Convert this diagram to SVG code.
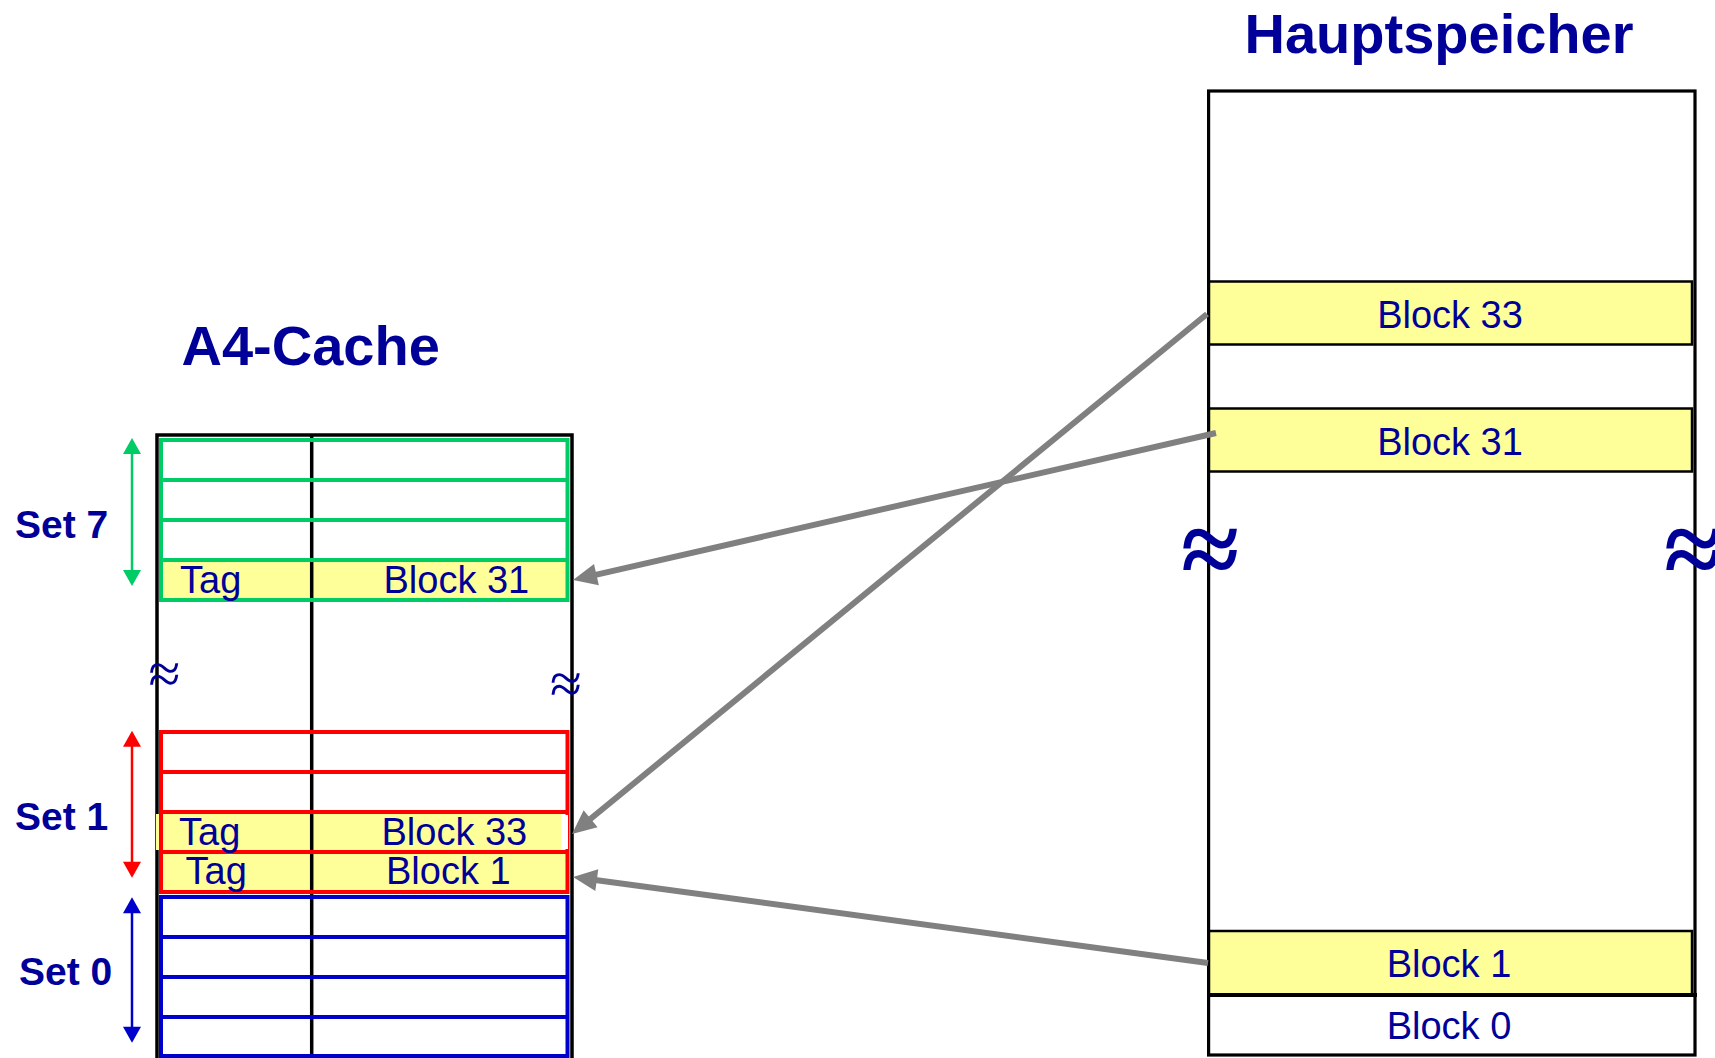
<svg xmlns="http://www.w3.org/2000/svg" width="1715" height="1058" viewBox="0 0 1715 1058">
<style>
.txt{font-family:"Liberation Sans",Arial,sans-serif;fill:#000099;font-size:38px}
.title{font-family:"Liberation Sans",Arial,sans-serif;fill:#000099;font-size:56px;font-weight:bold}
.setl{font-family:"Liberation Sans",Arial,sans-serif;fill:#000099;font-size:39px;font-weight:bold}
.apx{font-family:"Liberation Serif","Times New Roman",serif;fill:#000099;text-anchor:middle}
.yel{fill:#FFFF99}
.blk{stroke:#000;fill:none}
.memrow{fill:#FFFF99;stroke:#000;stroke-width:2.5}
.green{stroke:#00CC66;fill:none;stroke-width:4}
.red{stroke:#FF0000;fill:none;stroke-width:4}
.blue{stroke:#0000CC;fill:none;stroke-width:4}
.conn{stroke:#808080;stroke-width:6;fill:none;marker-end:url(#grayHead)}
</style>
<defs>
<marker id="grayHead" markerUnits="userSpaceOnUse" markerWidth="24" markerHeight="22" refX="11" refY="11" orient="auto" overflow="visible">
<path d="M0,0 L24,11 L0,22 Z" fill="#808080"/>
</marker>
<marker id="gHead" markerUnits="userSpaceOnUse" markerWidth="18" markerHeight="18" refX="4" refY="9" orient="auto-start-reverse" overflow="visible">
<path d="M0,0 L16,9 L0,18 Z" fill="#00CC66"/>
</marker>
<marker id="rHead" markerUnits="userSpaceOnUse" markerWidth="18" markerHeight="18" refX="4" refY="9" orient="auto-start-reverse" overflow="visible">
<path d="M0,0 L16,9 L0,18 Z" fill="#FF0000"/>
</marker>
<marker id="bHead" markerUnits="userSpaceOnUse" markerWidth="18" markerHeight="18" refX="4" refY="9" orient="auto-start-reverse" overflow="visible">
<path d="M0,0 L16,9 L0,18 Z" fill="#0000CC"/>
</marker>
</defs>

<g id="title-cache"><text class="title" x="181.5" y="365">A4-Cache</text></g>
<g id="title-memory"><text class="title" x="1439" y="53" text-anchor="middle">Hauptspeicher</text></g>

<g id="cache">
<rect class="yel" x="161" y="560" width="406" height="40"/>
<rect class="yel" x="161" y="852" width="406" height="40"/>
<path class="blk" stroke-width="3.5" d="M157,1060 V435 H572 V1060"/>
<rect class="yel" x="156" y="814" width="405" height="36"/>
<rect x="561" y="814" width="8" height="36" fill="#fff"/>
<line class="blk" stroke-width="3.5" x1="311.7" y1="435" x2="311.7" y2="1054"/>
<text class="apx" x="164.3" y="693" font-size="58">≈</text>
<text class="apx" x="566" y="703" font-size="58">≈</text>
</g>

<g id="set7">
<rect class="green" x="161" y="440" width="406.5" height="160"/>
<path class="green" d="M161,480 H567.5 M161,520 H567.5 M161,560 H567.5"/>
<text class="txt" x="180" y="592.7">Tag</text>
<text class="txt" x="383.5" y="592.7">Block 31</text>
<line x1="132" y1="450" x2="132" y2="574" stroke="#00CC66" stroke-width="2.5" marker-start="url(#gHead)" marker-end="url(#gHead)"/>
<text class="setl" x="15" y="538">Set 7</text>
</g>

<g id="set1">
<path class="red" d="M161,852 V732 H567.5 V852 M161,852 V892 H567.5 V852 M161,772 H567.5 M161,812 H567.5 M161,852 H567.5"/>
<rect x="563" y="815" width="5" height="34" fill="#fff"/>
<text class="txt" x="179" y="845">Tag</text>
<text class="txt" x="381.5" y="845">Block 33</text>
<text class="txt" x="185.5" y="884.3">Tag</text>
<text class="txt" x="386" y="884.3">Block 1</text>
<line x1="132" y1="742.7" x2="132" y2="865.7" stroke="#FF0000" stroke-width="2.5" marker-start="url(#rHead)" marker-end="url(#rHead)"/>
<text class="setl" x="15" y="830">Set 1</text>
</g>

<g id="set0">
<rect class="blue" x="161" y="897" width="406.5" height="159"/>
<path class="blue" d="M161,937 H567.5 M161,977 H567.5 M161,1017 H567.5"/>
<line x1="132" y1="909.3" x2="132" y2="1030.7" stroke="#0000CC" stroke-width="2.5" marker-start="url(#bHead)" marker-end="url(#bHead)"/>
<text class="setl" x="19" y="985">Set 0</text>
</g>

<g id="memory">
<rect class="blk" stroke-width="3.2" x="1208.6" y="91" width="486.4" height="964" fill="#fff"/>
<rect class="memrow" x="1209" y="281.5" width="483" height="63"/>
<rect class="memrow" x="1209" y="408.5" width="483" height="63"/>
<rect class="memrow" x="1209" y="931" width="483" height="64"/>
<line class="blk" stroke-width="4" x1="1208" y1="995" x2="1697" y2="995"/>
<text class="txt" x="1450" y="328.4" text-anchor="middle">Block 33</text>
<text class="txt" x="1450" y="455.4" text-anchor="middle">Block 31</text>
<text class="txt" x="1449" y="976.7" text-anchor="middle">Block 1</text>
<text class="txt" x="1449" y="1039.3" text-anchor="middle">Block 0</text>
<text class="apx" x="1210" y="585" font-size="106" font-weight="bold">≈</text>
<text class="apx" x="1693" y="585" font-size="106" font-weight="bold">≈</text>
</g>

<g id="connectors">
<path class="conn" d="M1207,314 L582.1,825.8"/>
<path class="conn" d="M1216,433 L585.7,577.1"/>
<path class="conn" d="M1208,963 L585.9,878.7"/>
</g>
</svg>
